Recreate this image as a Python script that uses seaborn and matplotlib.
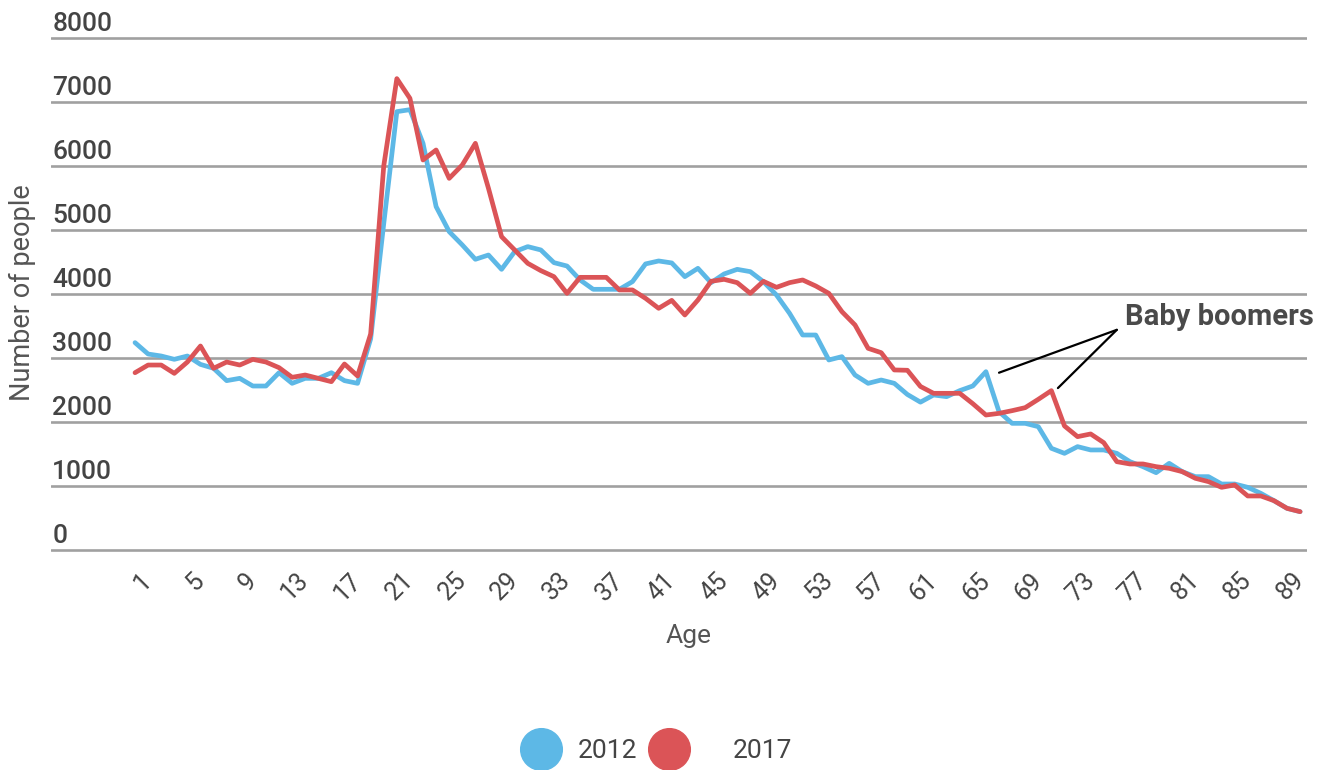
import matplotlib
matplotlib.use("Agg")
import matplotlib.pyplot as plt
from matplotlib.lines import Line2D
import seaborn as sns
import pandas as pd

# ages 0..89, one value per age
ages = list(range(0, 90))
people_2012 = [3240, 3062, 3031, 2979, 3031, 2900, 2839, 2646, 2682, 2562,
               2562, 2770, 2604, 2682, 2682, 2770, 2646, 2604, 3300, 5100,
               6849, 6880, 6354, 5365, 4974, 4766, 4542, 4609, 4385, 4661,
               4740, 4688, 4490, 4437, 4219, 4073, 4073, 4073, 4193, 4470,
               4516, 4485, 4271, 4401, 4177, 4313, 4385, 4349, 4193, 3984,
               3698, 3359, 3359, 2969, 3021, 2734, 2604, 2656, 2604, 2430,
               2310, 2422, 2396, 2490, 2563, 2786, 2161, 1979, 1979, 1927,
               1589, 1510, 1615, 1563, 1563, 1510, 1380, 1302, 1208, 1354,
               1224, 1146, 1146, 1031, 1031, 979, 885, 771, 651, 599]
people_2017 = [2770, 2890, 2890, 2760, 2937, 3187, 2839, 2937, 2890, 2979,
               2937, 2849, 2698, 2734, 2682, 2630, 2906, 2719, 3375, 6000,
               7365, 7057, 6094, 6250, 5807, 6016, 6354, 5651, 4896, 4688,
               4479, 4365, 4271, 4010, 4260, 4260, 4260, 4063, 4063, 3932,
               3776, 3900, 3672, 3906, 4198, 4229, 4177, 4010, 4198, 4104,
               4177, 4219, 4125, 4010, 3724, 3516, 3151, 3083, 2813, 2808,
               2555, 2448, 2448, 2448, 2286, 2109, 2135, 2177, 2224, 2354,
               2490, 1938, 1771, 1813, 1677, 1380, 1344, 1344, 1302, 1276,
               1224, 1120, 1068, 979, 1016, 844, 844, 771, 651, 599]
years = ["2012", "2017"]
x_ticks = list(range(1, 90, 4))
y_ticks = [0, 1000, 2000, 3000, 4000, 5000, 6000, 7000, 8000]

# annotation: label anchor and the two peaks it points at
note_text = "Baby boomers"
note_apex = (75.0, 3440)
note_ends = [(66.0, 2770), (70.5, 2530)]
note_pos = (75.65, 3520)

colors = {"2012": "#5db8e6", "2017": "#db5457"}
text_col = "#444444"

df = pd.DataFrame({
    "age": ages + ages,
    "people": people_2012 + people_2017,
    "year": ["2012"] * len(ages) + ["2017"] * len(ages),
})

sns.set_style("white")
plt.rcParams["font.family"] = ["Roboto", "DejaVu Sans"]

fig = plt.figure(figsize=(13.31, 7.70), dpi=100)
ax = fig.add_axes([0.0383, 0.2691, 0.9437, 0.6982])

sns.lineplot(data=df, x="age", y="people", hue="year", palette=colors,
             linewidth=3.4, legend=False, ax=ax)

ax.set_xlim(-6.42, 89.53)
ax.set_ylim(-200, 8200)
for s in ax.spines.values():
    s.set_visible(False)

# horizontal grid lines
ax.set_yticks(y_ticks)
ax.yaxis.grid(True, color="#a0a0a0", linewidth=1.9)
ax.xaxis.grid(False)
ax.set_axisbelow(True)
ax.tick_params(axis="y", length=0, labelleft=False)
for v in y_ticks:
    ax.annotate(str(v), xy=(0.001, v), xycoords=("axes fraction", "data"),
                xytext=(0, 5), textcoords="offset points", ha="left",
                va="baseline", fontsize=19, fontweight="medium", color=text_col)

ax.set_xticks(x_ticks)
ax.set_xticklabels([str(t) for t in x_ticks])
ax.tick_params(axis="x", length=0, pad=10, labelsize=18, labelcolor=text_col)
plt.setp(ax.get_xticklabels(), rotation=45, ha="right", va="center",
         rotation_mode="anchor")
ax.set_xlabel("")
ax.set_ylabel("")

fig.text(689 / 1331, 1 - 636 / 770, "Age", ha="center", va="center",
         fontsize=19, color="#555555")
fig.text(22 / 1331, 1 - 293 / 770, "Number of people", rotation=90,
         ha="center", va="center", fontsize=19.5, color="#555555")

# baby boomers note
ax.text(note_pos[0], note_pos[1], note_text, ha="left", va="baseline",
        fontsize=21, fontweight="bold", color="#4a4a4a")
for end in note_ends:
    ax.plot([note_apex[0], end[0]], [note_apex[1], end[1]], color="black",
            linewidth=1.6)

# legend: one block per year, as in the original layout
leg_left = [520 / 1331, 648 / 1331]
leg_pad = [0.6, 1.63]
for i, y in enumerate(years):
    h = Line2D([], [], linestyle="none", marker="o", markersize=30,
               markerfacecolor=colors[y], markeredgecolor=colors[y])
    leg = fig.legend([h], [y], loc="center left",
                     bbox_to_anchor=(leg_left[i], 1 - 751 / 770),
                     frameon=False, fontsize=19, handlelength=1.59,
                     handletextpad=leg_pad[i], borderpad=0, borderaxespad=0,
                     labelcolor=text_col)

plt.savefig("out.png", dpi=100)
plt.close()
